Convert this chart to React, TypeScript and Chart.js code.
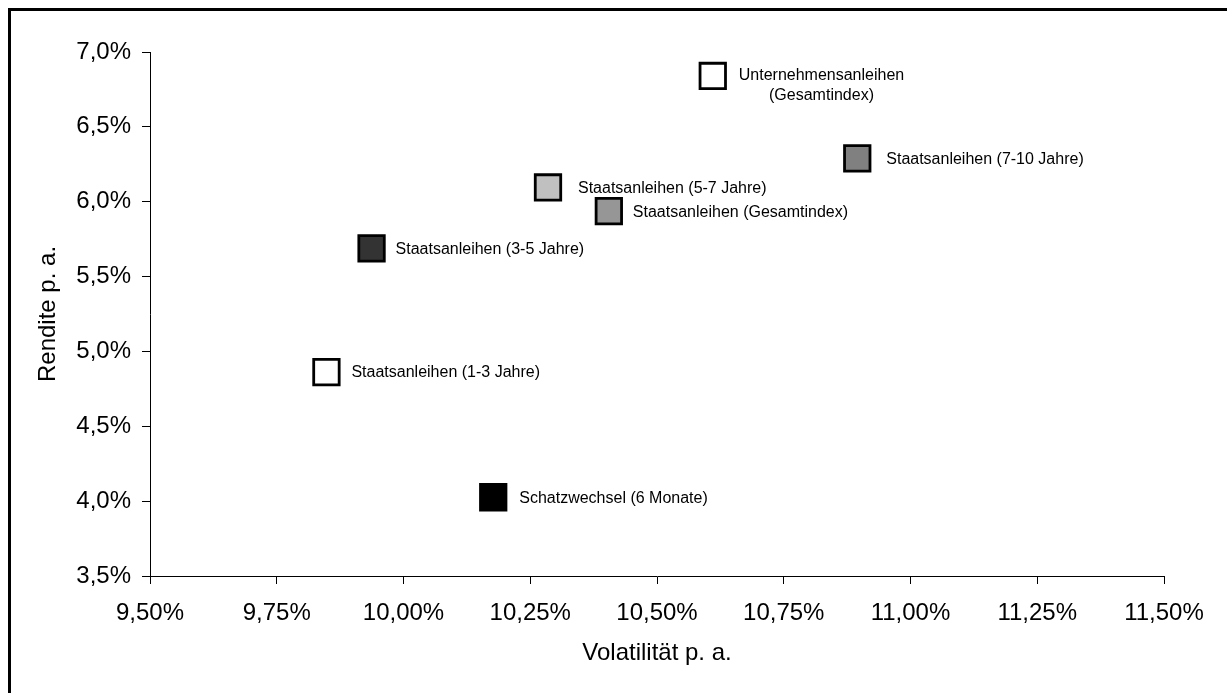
import React, { useEffect, useRef } from "react";
import { Chart, registerables } from "chart.js";

Chart.register(...registerables);

// Anlageklassen: Volatilität und Rendite p. a. (in %)
const seriesNames: string[][] = [
  ["Unternehmensanleihen", "(Gesamtindex)"],
  ["Staatsanleihen (7-10 Jahre)"],
  ["Staatsanleihen (5-7 Jahre)"],
  ["Staatsanleihen (Gesamtindex)"],
  ["Staatsanleihen (3-5 Jahre)"],
  ["Staatsanleihen (1-3 Jahre)"],
  ["Schatzwechsel (6 Monate)"],
];
const volatility: number[] = [10.61, 10.895, 10.285, 10.405, 9.937, 9.848, 10.177];
const returns: number[] = [6.84, 6.29, 6.095, 5.937, 5.688, 4.862, 4.026];
const fillColors: string[] = ["#FFFFFF", "#808080", "#C0C0C0", "#969696", "#333333", "#FFFFFF", "#000000"];

const xTickMin = 9.5;
const xTickMax = 11.5;
const xTickStep = 0.25;
const yTickMin = 3.5;
const yTickMax = 7.0;
const yTickStep = 0.5;

// horizontal gap (px) between a marker's centre and its label
const labelGaps: number[] = [26, 29, 30, 24, 24, 25, 26];

const FONT = "'Liberation Sans', Arial, Helvetica, sans-serif";

// Beschriftung rechts neben jedem Punkt; mehrzeilige Namen werden zentriert
const pointLabelPlugin = {
  id: "pointLabels",
  afterDatasetsDraw(chart: any) {
    const ctx = chart.ctx;
    const meta = chart.getDatasetMeta(0);
    ctx.save();
    ctx.font = `16px ${FONT}`;
    ctx.fillStyle = "#000";
    ctx.textBaseline = "middle";
    meta.data.forEach((pt: any, i: number) => {
      const lines = seriesNames[i];
      const startX = pt.x + labelGaps[i];
      if (lines.length === 1) {
        ctx.textAlign = "left";
        ctx.fillText(lines[0], startX, pt.y + 1);
      } else {
        const w = ctx.measureText(lines[0]).width;
        ctx.textAlign = "center";
        lines.forEach((line: string, k: number) => {
          ctx.fillText(line, startX + w / 2, pt.y + k * 20);
        });
      }
    });
    ctx.restore();
  },
};

export default function App() {
  const canvasRef = useRef<HTMLCanvasElement | null>(null);

  useEffect(() => {
    if (!canvasRef.current) return;
    const chart = new Chart(canvasRef.current, {
      type: "scatter",
      data: {
        datasets: [
          {
            label: "Anlageklassen",
            data: volatility.map((v, i) => ({ x: v, y: returns[i] })),
            pointStyle: "rect",
            pointRadius: 18,
            pointHoverRadius: 18,
            backgroundColor: fillColors,
            borderColor: "#000000",
            borderWidth: 2.8,
            pointHoverBorderWidth: 2.8,
          },
        ],
      },
      options: {
        responsive: false,
        animation: false,
        events: [],
        layout: { padding: { left: 11, top: 52, right: 63, bottom: 17 } },
        plugins: {
          legend: { display: false },
          tooltip: { enabled: false },
        },
        scales: {
          x: {
            type: "linear",
            min: xTickMin,
            max: xTickMax,
            afterFit: (scale: any) => {
              scale.height = 100;
            },
            ticks: {
              stepSize: xTickStep,
              padding: 15,
              color: "#000",
              font: { family: FONT, size: 24 },
              callback: (v: any) => Number(v).toFixed(2).replace(".", ",") + "%",
            },
            grid: { drawOnChartArea: false, drawTicks: true, tickLength: 8, color: "#000" },
            border: { color: "#000", width: 1 },
            title: {
              display: true,
              text: "Volatilität p. a.",
              color: "#000",
              font: { family: FONT, size: 24 },
              padding: { top: 0, bottom: 8 },
            },
          },
          y: {
            type: "linear",
            min: yTickMin,
            max: yTickMax,
            afterFit: (scale: any) => {
              scale.width = 139;
            },
            ticks: {
              stepSize: yTickStep,
              padding: 11,
              color: "#000",
              font: { family: FONT, size: 24 },
              callback: (v: any) => Number(v).toFixed(1).replace(".", ",") + "%",
            },
            grid: { drawOnChartArea: false, drawTicks: true, tickLength: 8, color: "#000" },
            border: { color: "#000", width: 1 },
            title: {
              display: true,
              text: "Rendite p. a.",
              color: "#000",
              font: { family: FONT, size: 24 },
              padding: { top: 23, bottom: 0 },
            },
          },
        },
      },
      plugins: [pointLabelPlugin],
    });
    return () => chart.destroy();
  }, []);

  return (
    <div
      style={{
        position: "fixed",
        left: 0,
        top: 0,
        width: 1227,
        height: 693,
        background: "#fff",
        overflow: "hidden",
      }}
    >
      <canvas ref={canvasRef} width={1227} height={693} style={{ display: "block" }} />
      <div
        style={{
          position: "absolute",
          left: 8,
          top: 8,
          width: 1227,
          height: 693,
          borderLeft: "3px solid #000",
          borderTop: "3px solid #000",
          pointerEvents: "none",
        }}
      />
    </div>
  );
}
